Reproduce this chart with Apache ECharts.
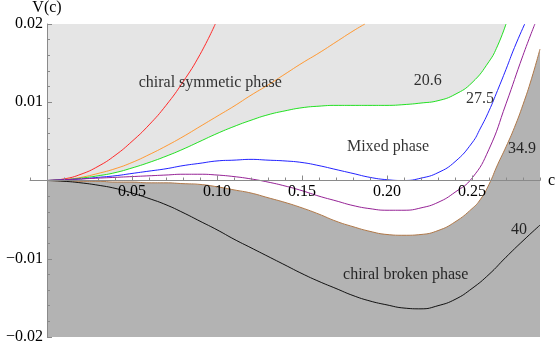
<!DOCTYPE html>
<html lang="en">
<head>
  <meta charset="UTF-8">
  <title>V(c) phases</title>
  <script src="https://cdn.jsdelivr.net/npm/echarts@6/dist/echarts.min.js"></script>
  <style>
    html, body { margin: 0; padding: 0; background: #fff; }
    #target { width: 556px; height: 347px; }
  </style>
</head>
<body>
  <div id="target"></div>
  <script>
    // curves, [c, V(c)]
    const redVals = [[0,0],[0.01,0.0002],[0.02,0.0008],[0.03,0.0018],[0.04,0.0032],[0.05,0.0050],
      [0.06,0.0071],[0.07,0.0096],[0.08,0.0126],[0.09,0.0161],[0.099,0.020]];
    const orangeVals = [[0,0],[0.01,0.0001],[0.02,0.0004],[0.03,0.0009],[0.04,0.0015],[0.05,0.0023],
      [0.06,0.0033],[0.07,0.0044],[0.08,0.0056],[0.09,0.0069],[0.10,0.0082],[0.11,0.0095],
      [0.12,0.0109],[0.13,0.0122],[0.14,0.0136],[0.15,0.0150],[0.16,0.0163],[0.17,0.0177],
      [0.18,0.0191],[0.187,0.020]];
    const greenVals = [[0,0],[0.01,0.0001],[0.02,0.0003],[0.03,0.0006],[0.04,0.0010],[0.05,0.0016],
      [0.06,0.0023],[0.07,0.0031],[0.08,0.0040],[0.09,0.0050],[0.10,0.0060],[0.11,0.0069],
      [0.12,0.0077],[0.13,0.0084],[0.14,0.0089],[0.15,0.0093],[0.16,0.0095],[0.17,0.0096],
      [0.18,0.0096],[0.19,0.0096],[0.20,0.0096],[0.21,0.0097],[0.22,0.0099],[0.23,0.0102],
      [0.24,0.0110],[0.25,0.0125],[0.26,0.0152],[0.265,0.0172],[0.27,0.020]];
    const blueVals = [[0,0],[0.01,0.0001],[0.02,0.0002],[0.03,0.0004],[0.04,0.0006],[0.05,0.0009],
      [0.06,0.0012],[0.07,0.0015],[0.08,0.0019],[0.09,0.0022],[0.10,0.0025],[0.11,0.0026],
      [0.12,0.0027],[0.13,0.0026],[0.14,0.0025],[0.15,0.0023],[0.16,0.0019],[0.17,0.0014],
      [0.18,0.0009],[0.19,0.0004],[0.20,0.0001],[0.21,0.0000],[0.22,0.0003],[0.23,0.0010],
      [0.24,0.0024],[0.25,0.0048],[0.255,0.0067],[0.26,0.0089],[0.265,0.0115],[0.27,0.0142],
      [0.275,0.0170],[0.281,0.020]];
    const purpleVals = [[0,0],[0.01,0.0001],[0.02,0.0002],[0.03,0.0003],[0.04,0.0004],[0.05,0.0005],
      [0.06,0.0006],[0.07,0.0007],[0.08,0.0008],[0.09,0.0008],[0.10,0.0007],[0.11,0.0005],
      [0.12,0.0002],[0.13,-0.0002],[0.14,-0.0007],[0.15,-0.0013],[0.16,-0.0020],[0.17,-0.0026],
      [0.18,-0.0032],[0.19,-0.0036],[0.20,-0.0038],[0.21,-0.0038],[0.22,-0.0035],[0.23,-0.0028],
      [0.24,-0.0015],[0.25,0.0003],[0.26,0.0040],[0.27,0.0098],[0.28,0.0160],[0.287,0.020]];
    const brownVals = [[0,0],[0.01,-0.00005],[0.02,-0.0001],[0.03,-0.0001],[0.04,-0.0002],[0.05,-0.0002],
      [0.06,-0.0003],[0.07,-0.0003],[0.08,-0.0004],[0.09,-0.0005],[0.10,-0.0008],[0.11,-0.0012],
      [0.12,-0.0016],[0.13,-0.0022],[0.14,-0.0028],[0.15,-0.0035],[0.16,-0.0043],[0.17,-0.0052],
      [0.18,-0.0059],[0.19,-0.0065],[0.20,-0.0069],[0.21,-0.0070],[0.22,-0.0069],[0.23,-0.0064],
      [0.24,-0.0053],[0.25,-0.0036],[0.255,-0.0024],[0.26,-0.0005],[0.265,0.0020],[0.27,0.0043],
      [0.275,0.0068],[0.28,0.0097],[0.285,0.0130],[0.29,0.0168]];
    const blackVals = [[0,0],[0.01,-0.0001],[0.02,-0.0003],[0.03,-0.0006],[0.04,-0.0010],[0.05,-0.0016],
      [0.06,-0.0023],[0.07,-0.0031],[0.08,-0.0041],[0.09,-0.0052],[0.10,-0.0063],[0.11,-0.0075],
      [0.12,-0.0086],[0.13,-0.0097],[0.14,-0.0108],[0.15,-0.0119],[0.16,-0.0129],[0.17,-0.0138],
      [0.18,-0.0147],[0.19,-0.0154],[0.20,-0.0159],[0.21,-0.0163],[0.22,-0.0164],[0.23,-0.0160],
      [0.24,-0.0152],[0.25,-0.0138],[0.26,-0.0120],[0.27,-0.0098],[0.28,-0.0077],[0.29,-0.0057]];

    const xTickLabels = [0.05, 0.10, 0.15, 0.20, 0.25];
    const yTickLabels = [-0.02, -0.01, 0.01, 0.02];

    // text written inside the plot: [c, V, text]
    const notes = [
      [0.096, 0.0125, 'chiral symmetic phase'],
      [0.224, 0.0127, '20.6'],
      [0.2547, 0.0104, '27.5'],
      [0.2006, 0.0043, 'Mixed phase'],
      [0.2794, 0.0040, '34.9'],
      [0.2776, -0.0063, '40'],
      [0.211, -0.0120, 'chiral broken phase']
    ];

    const serif = 'Liberation Serif';
    const axisGray = '#8a8a8a';
    const W = 556, H = 347;
    const gridBox = { left: 30, right: 16, top: 24, bottom: 10 };
    const xMin = -0.01, xMax = 0.29, yMin = -0.02, yMax = 0.02;
    // move the axes from the grid edges to the zero lines
    const plotW = W - gridBox.left - gridBox.right;
    const plotH = H - gridBox.top - gridBox.bottom;
    const yAxisShift = -(0 - xMin) / (xMax - xMin) * plotW;
    const xAxisShift = -(0 - yMin) / (yMax - yMin) * plotH;

    function curve(data, color) {
      return {
        type: 'line', data, smooth: true, symbol: 'none', z: 4,
        lineStyle: { color, width: 1 }, silent: true
      };
    }

    const option = {
      animation: false,
      grid: Object.assign({ containLabel: false, outerBoundsMode: 'none' }, gridBox),
      xAxis: [{
        type: 'value', min: xMin, max: xMax, z: 10, position: 'bottom', offset: xAxisShift,
        name: 'c', nameLocation: 'end', nameGap: 8,
        nameTextStyle: { fontFamily: serif, fontSize: 16, color: '#000' },
        axisLine: { onZero: false, lineStyle: { color: axisGray, width: 1 } },
        axisTick: { inside: true, length: 5, customValues: xTickLabels, lineStyle: { color: axisGray } },
        axisLabel: {
          customValues: xTickLabels, margin: 3,
          fontFamily: serif, fontSize: 16, color: '#000',
          formatter: v => v.toFixed(2)
        },
        splitLine: { show: false }
      }, {
        type: 'value', min: xMin, max: xMax, interval: 0.01, z: 10, position: 'bottom', offset: xAxisShift,
        axisLine: { show: false, onZero: false },
        axisTick: { inside: true, length: 3, lineStyle: { color: axisGray } },
        axisLabel: { show: false },
        splitLine: { show: false }
      }],
      yAxis: {
        type: 'value', min: yMin, max: yMax, interval: 0.01, z: 10, position: 'left', offset: yAxisShift,
        name: 'V(c)', nameLocation: 'end', nameGap: 7,
        nameTextStyle: { fontFamily: serif, fontSize: 16, color: '#000', align: 'center' },
        axisLine: { onZero: false, lineStyle: { color: axisGray, width: 1 } },
        axisTick: { inside: true, length: 5, lineStyle: { color: axisGray } },
        minorTick: { show: true, splitNumber: 5, length: 3, lineStyle: { color: axisGray } },
        axisLabel: {
          margin: 4, fontFamily: serif, fontSize: 16, color: '#000',
          formatter: v => {
            const hit = yTickLabels.find(t => Math.abs(t - v) < 1e-9);
            if (hit === undefined) return '';
            return hit < 0 ? '\u2212' + Math.abs(hit).toFixed(2) : hit.toFixed(2);
          }
        },
        splitLine: { show: false }
      },
      series: [
        {
          type: 'line', data: greenVals, smooth: true, symbol: 'none', z: 1, silent: true,
          lineStyle: { width: 0, opacity: 0 },
          areaStyle: { color: '#e5e5e5', opacity: 1, origin: 'end' }
        },
        {
          type: 'line', data: brownVals, smooth: true, symbol: 'none', z: 1, silent: true,
          lineStyle: { width: 0, opacity: 0 },
          areaStyle: { color: '#b3b3b3', opacity: 1, origin: 'start' }
        },
        curve(redVals, '#ff2a2a'),
        curve(orangeVals, '#ff9933'),
        curve(greenVals, '#22e022'),
        curve(blueVals, '#2222ff'),
        curve(purpleVals, '#952295'),
        curve(brownVals, '#b07848'),
        curve(blackVals, '#111'),
        {
          type: 'scatter', z: 6, silent: true,
          data: notes.map(n => ({ value: [n[0], n[1]], name: n[2] })),
          symbolSize: 1, itemStyle: { color: 'rgba(0,0,0,0)' },
          label: {
            show: true, position: 'inside', formatter: p => p.name,
            fontFamily: serif, fontSize: 16, color: '#000'
          }
        }
      ]
    };

    echarts.init(document.getElementById('target')).setOption(option);
  </script>
</body>
</html>
